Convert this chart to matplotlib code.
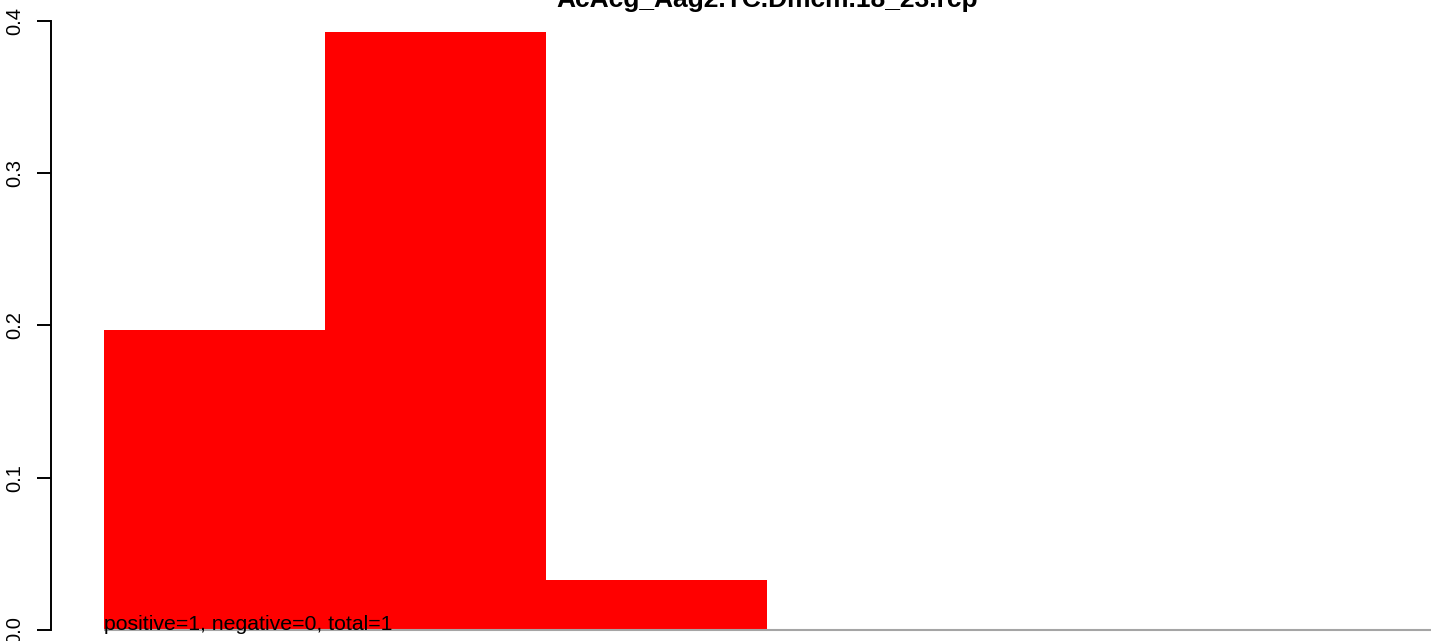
import matplotlib
matplotlib.use("Agg")
import matplotlib.pyplot as plt

# bin fractions (6 bins, last three empty)
bins = [0, 1, 2, 3, 4, 5]
fractions = [0.197, 0.393, 0.033, 0.0, 0.0, 0.0]
yticks = [0.0, 0.1, 0.2, 0.3, 0.4]
title = "AcAcg_Aag2.TC.Dmcm.18_23.rcp"
note = "positive=1, negative=0, total=1"

plt.rcParams['font.family'] = ['Liberation Sans', 'DejaVu Sans']

W, H = 1444, 641
fig = plt.figure(figsize=(W / 100, H / 100), dpi=100)

# plot region in pixels (the R device was larger; picture is cropped)
left_px, right_px = 50.7, 1484.3
top_px, bottom_px = 7.7, 653.9
ax = fig.add_axes([left_px / W, (H - bottom_px) / H,
                   (right_px - left_px) / W, (bottom_px - top_px) / H])

ymax = max(fractions)
ax.bar(bins, fractions, width=1.0, align='edge', color='red', linewidth=0)
ax.hlines(0, bins[0], bins[-1] + 1, color='#a5a5a5', linewidth=1.5, zorder=3)

ax.set_xlim(-0.24, 6.24)
ax.set_ylim(-0.04 * ymax, ymax * 1.04)

for s in ['top', 'right', 'bottom']:
    ax.spines[s].set_visible(False)
ax.spines['left'].set_bounds(0, 0.4)
ax.spines['left'].set_linewidth(1.4)
ax.set_xticks([])
ax.set_yticks(yticks)
ax.set_yticklabels([f"{t:.1f}" for t in yticks], rotation=90, va='center')
ax.tick_params(axis='y', length=10, width=1.4, pad=9, labelsize=14.5)

ax.text(0, 0, note, fontsize=15.3, ha='left', va='baseline', zorder=4)

fig.text((left_px + right_px) / 2 / W, 1 - 7 / H, title, fontsize=19,
         fontweight='bold', ha='center', va='baseline')

fig.savefig("out.png", dpi=100)
